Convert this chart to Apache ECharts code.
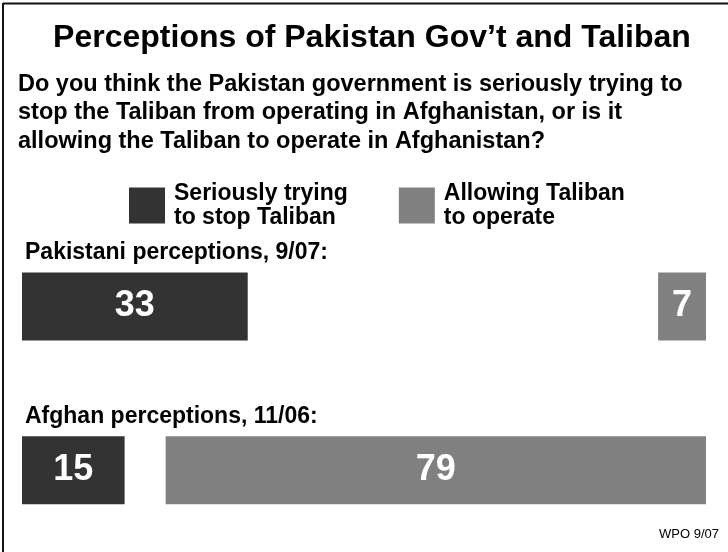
<!DOCTYPE html>
<html>
<head>
<meta charset="utf-8">
<script src="https://cdn.jsdelivr.net/npm/echarts@6/dist/echarts.min.js"></script>
<style>
  html, body { margin: 0; padding: 0; background: #fff; }
  #chart { width: 728px; height: 552px; }
</style>
</head>
<body>
<div id="chart"></div>
<script>
// values (percent)
const groups = ['Pakistani perceptions, 9/07:', 'Afghan perceptions, 11/06:']
const tryingStop = [33, 15]
const allowing = [7, 79]
const seriesNames = ['Seriously trying\nto stop Taliban', 'Allowing Taliban\nto operate']

const titleText = 'Perceptions of Pakistan Gov\u2019t and Taliban'
const questionText = 'Do you think the Pakistan government is seriously trying to\nstop the Taliban from operating in Afghanistan, or is it\nallowing the Taliban to operate in Afghanistan?'
const sourceText = 'WPO 9/07'

const font = '"Liberation Sans", Arial, sans-serif'
const dark = '#333333'
const light = '#808080'

// whatever is not answered sits between the two bars
const gap = tryingStop.map((v, i) => 100 - v - allowing[i])

const chart = echarts.init(document.getElementById('chart'))

const valueLabel = {
  show: true,
  position: 'inside',
  color: '#fff',
  fontFamily: font,
  fontWeight: 'bold',
  fontSize: 36
}

chart.setOption({
  animation: false,
  backgroundColor: '#fff',
  graphic: [
    { type: 'line', shape: { x1: 3, y1: 3.5, x2: 728, y2: 3.5 }, style: { stroke: '#111', lineWidth: 2 } },
    { type: 'line', shape: { x1: 3, y1: 3, x2: 3, y2: 552 }, style: { stroke: '#111', lineWidth: 2 } },
    {
      type: 'text', x: 372, y: 38,
      style: { text: titleText, align: 'center', verticalAlign: 'middle', font: 'bold 32px ' + font, fill: '#000' }
    },
    {
      type: 'text', x: 18, y: 70,
      style: { text: questionText, align: 'left', verticalAlign: 'top', font: 'bold 23.5px ' + font, lineHeight: 28.5, fill: '#000' }
    },
    {
      type: 'text', x: 719, y: 534,
      style: { text: sourceText, align: 'right', verticalAlign: 'middle', font: '13px ' + font, fill: '#000' }
    }
  ],
  legend: {
    data: seriesNames,
    left: 124,
    top: 174,
    itemWidth: 36,
    itemHeight: 36,
    itemGap: 51,
    icon: 'rect',
    selectedMode: false,
    textStyle: {
      fontFamily: font,
      fontWeight: 'bold',
      fontSize: 23,
      lineHeight: 24.5,
      color: '#000',
      padding: [4, 0, 0, 4]
    }
  },
  grid: { left: 22, right: 22, top: 224.5, height: 338 },
  xAxis: {
    type: 'value', min: 0, max: 100, show: false
  },
  yAxis: {
    type: 'category',
    data: groups,
    inverse: true,
    axisLine: { show: false },
    axisTick: { show: false },
    axisLabel: {
      inside: true,
      margin: 3,
      verticalAlign: 'bottom',
      padding: [0, 0, 41.5, 0],
      lineHeight: 24,
      fontFamily: font,
      fontWeight: 'bold',
      fontSize: 23,
      color: '#000'
    }
  },
  series: [
    {
      name: seriesNames[0], type: 'bar', stack: 'all', barWidth: 68,
      data: tryingStop, itemStyle: { color: dark }, label: valueLabel
    },
    {
      name: 'gap', type: 'bar', stack: 'all', silent: true,
      data: gap, itemStyle: { color: 'rgba(0,0,0,0)' }, label: { show: false }
    },
    {
      name: seriesNames[1], type: 'bar', stack: 'all',
      data: allowing, itemStyle: { color: light }, label: valueLabel
    }
  ]
})
</script>
</body>
</html>
